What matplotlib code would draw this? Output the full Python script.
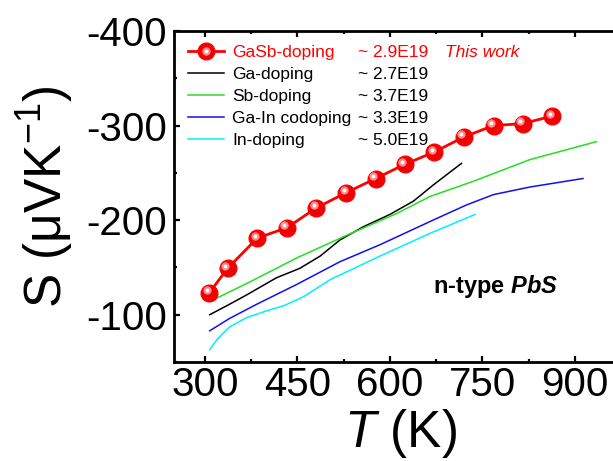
"""
n-type PbS Seebeck coefficient vs temperature
"""
import matplotlib
matplotlib.use('Agg')
import matplotlib.pyplot as plt
import matplotlib.transforms as mtransforms
from matplotlib.ticker import MultipleLocator

plt.rcParams['font.family'] = ['Liberation Sans', 'DejaVu Sans']
plt.rcParams['axes.unicode_minus'] = False
plt.rcParams['mathtext.fontset'] = 'custom'
plt.rcParams['mathtext.rm'] = 'Liberation Sans'
plt.rcParams['mathtext.it'] = 'Liberation Sans:italic'
plt.rcParams['mathtext.bf'] = 'Liberation Sans:bold'
plt.rcParams['mathtext.bfit'] = 'Liberation Sans:italic:bold'

# 데이터
t_gasb = [307, 337, 385, 433, 481, 529, 577, 624, 672, 720, 768, 815, 863]
s_gasb = [-123, -149, -181, -192, -213, -229, -244, -259, -272, -288, -300, -302, -310]

t_ga = [308, 340, 368, 416, 454, 487, 519, 557, 600, 638, 670, 716]
s_ga = [-100, -111, -121, -139, -149, -162, -179, -193, -206, -220, -237, -260]

t_sb = [308, 368, 449, 530, 611, 665, 735, 827, 935]
s_sb = [-114, -133, -160, -184, -207, -225, -241, -264, -283]

t_gain = [308, 340, 384, 449, 519, 584, 670, 724, 768, 827, 913]
s_gain = [-83, -96, -111, -132, -156, -174, -200, -216, -227, -235, -244]

t_in = [308, 320, 340, 368, 400, 430, 460, 503, 584, 665, 738]
s_in = [-63, -74, -87, -97, -104, -110, -119, -137, -162, -186, -206]

labels = ['GaSb-doping', 'Ga-doping', 'Sb-doping', 'Ga-In codoping', 'In-doping']
conc = ['~ 2.9E19', '~ 2.7E19', '~ 3.7E19', '~ 3.3E19', '~ 5.0E19']
text_colors = ['#FF0000', 'black', 'black', 'black', 'black']

fig = plt.figure(figsize=(6.13, 4.61), dpi=100)
ax = fig.add_axes([0.2838, 0.2148, 0.7548, 0.718])

# 곡선
l_ga, = ax.plot(t_ga, s_ga, color='black', lw=1.1)
l_sb, = ax.plot(t_sb, s_sb, color='#22E022', lw=1.1)
l_gain, = ax.plot(t_gain, s_gain, color='#1010F0', lw=1.1)
l_in, = ax.plot(t_in, s_in, color='#00F0FF', lw=1.1)

# 본 연구 데이터 (구슬 모양 마커)
l_red, = ax.plot(t_gasb, s_gasb, color='#FF0000', lw=2.0, marker='o', ms=12,
                 mfc='#F00000', mec='#FF0000', zorder=5)
shift1 = mtransforms.ScaledTranslation(-1.8 / 72, 1.8 / 72, fig.dpi_scale_trans)
hl1, = ax.plot(t_gasb, s_gasb, ls='none', marker='o', ms=6, mfc='#FF8A8A', mec='none',
               transform=ax.transData + shift1, zorder=6)
hl2, = ax.plot(t_gasb, s_gasb, ls='none', marker='o', ms=2.8, mfc='white', mec='none',
               transform=ax.transData + shift1, zorder=7)

ax.set_xlim(250, 1000)
ax.set_ylim(-50, -400)
ax.xaxis.set_major_locator(MultipleLocator(150))
ax.xaxis.set_minor_locator(MultipleLocator(75))
ax.yaxis.set_major_locator(MultipleLocator(100))
ax.yaxis.set_minor_locator(MultipleLocator(50))
ax.set_xticks([300, 450, 600, 750, 900])

ax.tick_params(which='both', direction='in', top=True, right=False, width=1.6)
ax.tick_params(which='major', length=4.5, labelsize=29)
ax.tick_params(which='minor', length=2.5)
ax.tick_params(axis='x', which='major', pad=3)
ax.tick_params(axis='y', which='major', pad=5)
for sp in ax.spines.values():
    sp.set_linewidth(2.0)

ax.set_xlabel('$T$ (K)', fontsize=37)
ax.set_ylabel('S (μVK$^{-1}$)', fontsize=37)
ax.xaxis.set_label_coords(0.49, -0.135)
ax.yaxis.set_label_coords(-0.212, 0.5)

leg = ax.legend([(l_red, hl1, hl2), l_ga, l_sb, l_gain, l_in], labels,
                loc='upper left', bbox_to_anchor=(0.03, 0.958), frameon=False,
                fontsize=12.5, handlelength=2.1, handletextpad=0.45,
                labelspacing=0.39, borderpad=0, borderaxespad=0, numpoints=1)
for txt, c in zip(leg.get_texts(), text_colors):
    txt.set_color(c)

# 농도 텍스트는 범례 행 높이에 맞춤
fig.canvas.draw()
blend = mtransforms.blended_transform_factory(ax.transAxes, mtransforms.IdentityTransform())
for i, txt in enumerate(leg.get_texts()):
    bb = txt.get_window_extent()
    yc = (bb.y0 + bb.y1) / 2
    ax.text(0.398, yc, conc[i], transform=blend, fontsize=12.5, color=text_colors[i],
            ha='left', va='center')
    if i == 0:
        ax.text(0.586, yc, 'This work', transform=blend, fontsize=12.5,
                color='#FF0000', style='italic', ha='left', va='center')

ax.text(0.694, 0.227, r'n-type $\mathbfit{PbS}$', transform=ax.transAxes,
        fontsize=17, fontweight='bold', ha='center', va='center')

fig.savefig('out.png', dpi=100)
